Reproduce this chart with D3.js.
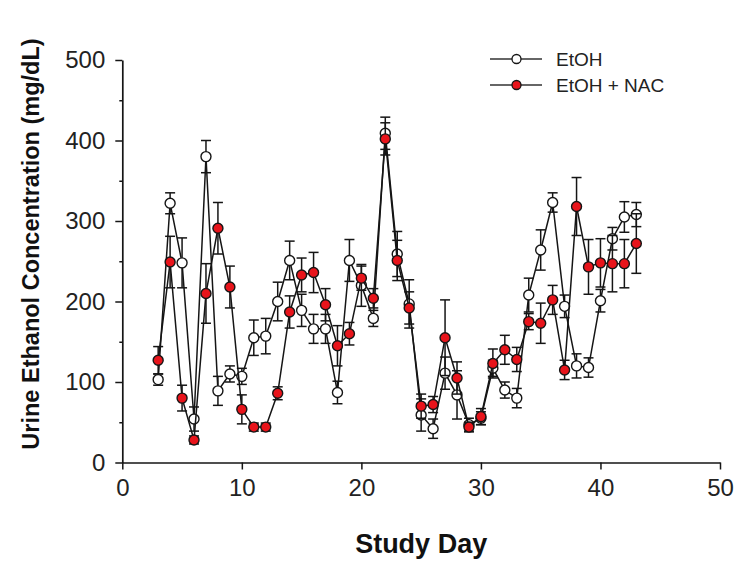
<!DOCTYPE html>
<html>
<head>
<meta charset="utf-8">
<script src="https://cdn.jsdelivr.net/npm/d3@7"></script>
<style>
  html, body { margin: 0; padding: 0; background: #fff; }
  svg { display: block; font-family: "Liberation Sans", Arial, Helvetica, sans-serif; }
</style>
</head>
<body>
<svg id="chart" width="741" height="564"></svg>
<script>
// Study days on which urine was sampled
const days = [3,4,5,6,7,8,9,10,11,12,13,14,15,16,17,18,19,20,21,22,23,24,25,26,27,28,29,30,31,32,33,34,35,36,37,38,39,40,41,42,43];

// EtOH group: mean urine ethanol (mg/dL) and SEM
const etohMean = [103,322,248,54,380,89,110,107,155,157,200,251,189,166,166,87,251,220,179,409,259,197,59,42,111,84,47,55,117,90,80,208,264,323,194,120,118,201,278,305,308];
const etohErr  = [7,13,31,15,20,18,10,10,22,22,24,24,20,18,18,14,26,26,10,20,28,30,20,12,20,30,8,8,10,10,12,21,25,12,14,15,12,14,14,19,15];

// EtOH + NAC group: mean urine ethanol (mg/dL) and SEM
const nacMean = [127,249,80,28,210,291,218,66,44,44,86,187,233,236,196,145,160,229,204,402,251,192,70,72,155,105,44,57,123,140,128,175,173,202,115,318,243,248,247,247,272];
const nacErr  = [17,32,16,5,37,32,26,18,5,5,8,20,21,25,20,25,14,15,12,20,25,20,15,10,47,20,6,10,18,18,15,10,25,18,12,36,34,30,35,30,37];

const xTicks = [0,10,20,30,40,50];
const yTicks = [0,100,200,300,400,500];
const yMinorTicks = [50,150,250,350,450];

const seriesNames = ["EtOH", "EtOH + NAC"];

const svg = d3.select("#chart");
const plotLeft = 122.3, plotRight = 720, plotTop = 60, plotBottom = 462.5;

const x = d3.scaleLinear().domain([0, 50]).range([plotLeft, plotRight]);
const y = d3.scaleLinear().domain([0, 500]).range([plotBottom, plotTop]);

const ink = "#151515";

// Axes
const xAxis = svg.append("g")
  .attr("transform", `translate(0,${plotBottom})`)
  .call(d3.axisBottom(x).tickValues(xTicks).tickSize(7).tickPadding(9).tickSizeOuter(0));
const yAxis = svg.append("g")
  .attr("transform", `translate(${plotLeft},0)`)
  .call(d3.axisLeft(y).tickValues(yTicks).tickSize(7).tickPadding(10).tickSizeOuter(0));
svg.append("g")
  .attr("transform", `translate(${plotLeft},0)`)
  .call(d3.axisLeft(y).tickValues(yMinorTicks).tickSize(3).tickFormat("").tickSizeOuter(0))
  .select(".domain").remove();

[xAxis, yAxis].forEach(g => {
  g.select(".domain").attr("stroke", ink).attr("stroke-width", 1.7);
  g.selectAll(".tick text").attr("fill", "#222").style("font-size", "24px");
});
svg.selectAll(".tick line").attr("stroke", ink).attr("stroke-width", 1.5);

// Axis titles
svg.append("text")
  .attr("x", x(25)).attr("y", 553)
  .attr("text-anchor", "middle")
  .attr("fill", "#111")
  .style("font-size", "27px").style("font-weight", "bold")
  .text("Study Day");
svg.append("text")
  .attr("transform", `translate(39,244) rotate(-90)`)
  .attr("text-anchor", "middle")
  .attr("fill", "#111")
  .style("font-size", "23.5px").style("font-weight", "bold")
  .text("Urine Ethanol Concentration (mg/dL)");

function drawSeries(means, errs, fill) {
  const pts = days.map((d, i) => ({ d, m: means[i], e: errs[i] }));
  const g = svg.append("g");
  // error bars
  const eb = g.selectAll("g.err").data(pts).join("g").attr("class", "err")
    .attr("stroke", ink).attr("stroke-width", 1.5);
  eb.append("line")
    .attr("x1", p => x(p.d)).attr("x2", p => x(p.d))
    .attr("y1", p => y(p.m - p.e)).attr("y2", p => y(p.m + p.e));
  eb.append("line")
    .attr("x1", p => x(p.d) - 5).attr("x2", p => x(p.d) + 5)
    .attr("y1", p => y(p.m + p.e)).attr("y2", p => y(p.m + p.e));
  eb.append("line")
    .attr("x1", p => x(p.d) - 5).attr("x2", p => x(p.d) + 5)
    .attr("y1", p => y(p.m - p.e)).attr("y2", p => y(p.m - p.e));
  // connecting line
  g.append("path")
    .datum(pts)
    .attr("fill", "none").attr("stroke", ink).attr("stroke-width", 1.5)
    .attr("d", d3.line().x(p => x(p.d)).y(p => y(p.m)));
  // markers
  g.selectAll("circle").data(pts).join("circle")
    .attr("cx", p => x(p.d)).attr("cy", p => y(p.m)).attr("r", 5)
    .attr("fill", fill).attr("stroke", ink).attr("stroke-width", 1.4);
}

drawSeries(etohMean, etohErr, "#ffffff");
drawSeries(nacMean, nacErr, "#e8141b");

// Legend
const legend = svg.append("g");
const legendFills = ["#ffffff", "#e8141b"];
seriesNames.forEach((name, i) => {
  const ly = 59 + i * 26;
  legend.append("line").attr("x1", 490).attr("x2", 542).attr("y1", ly).attr("y2", ly)
    .attr("stroke", "#333").attr("stroke-width", 1.5);
  legend.append("circle").attr("cx", 516.5).attr("cy", ly).attr("r", 4.5)
    .attr("fill", legendFills[i]).attr("stroke", ink).attr("stroke-width", 1.3);
  legend.append("text").attr("x", 556).attr("y", ly + 6.5)
    .attr("fill", "#222").style("font-size", "19px").text(name);
});
</script>
</body>
</html>
